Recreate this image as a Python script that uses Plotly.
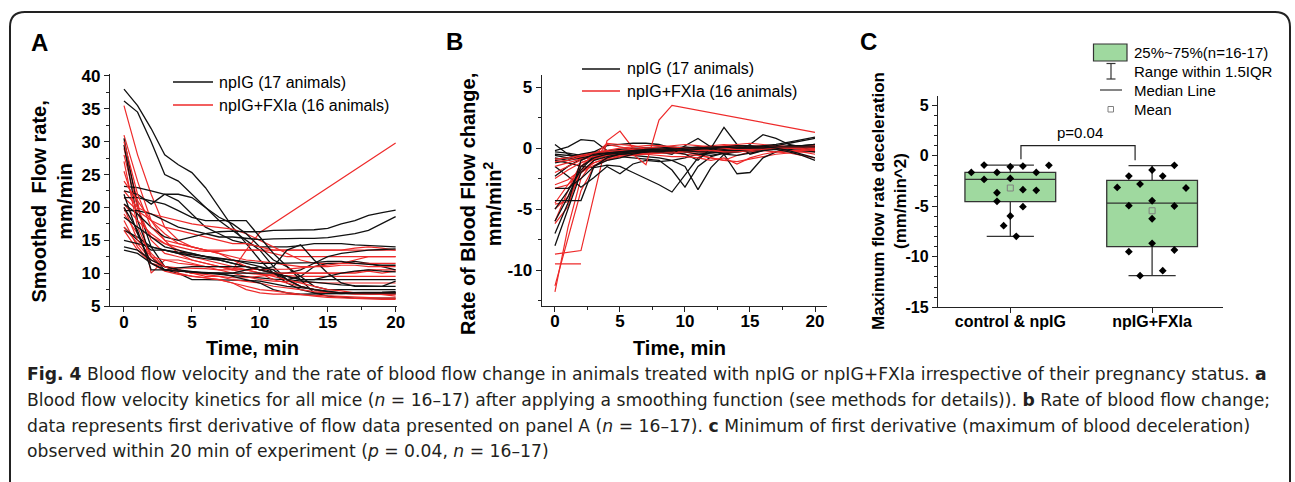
import plotly.graph_objects as go

W, H = 1295, 482
FONT = "Liberation Sans, Arial, sans-serif"
CAPFONT = "DejaVu Sans, sans-serif"

# ---------------- data ----------------
time_min = list(range(21))

# Panel A: smoothed flow rate (mm/min), npIG (17 animals)
flow_npig = [
    [38.0, 35.5, 32.0, 28.0, 26.5, 25.3, 23.0, 20.0, 17.0, 14.5, 12.0, 10.0, 8.5, 7.5, 7.0, 7.0, 7.0, 7.0, 7.0, 7.1, 7.2],
    [36.2, 34.5, 30.0, 25.0, 24.0, 22.0, 20.0, 18.0, 16.5, 15.0, 13.5, 11.0, 9.0, 8.0, 7.5, 7.0, 6.9, 6.8, 6.8, 6.8, 6.8],
    [30.5, 20.0, 14.0, 11.0, 10.5, 10.0, 10.0, 9.8, 9.6, 9.5, 9.2, 9.1, 9.0, 8.8, 8.5, 8.3, 8.2, 8.1, 8.0, 8.0, 8.0],
    [29.5, 18.0, 12.5, 10.5, 10.0, 9.0, 9.0, 9.0, 9.0, 8.9, 8.8, 8.4, 8.0, 7.8, 7.5, 7.2, 7.0, 7.0, 7.0, 7.0, 7.0],
    [23.2, 23.0, 22.5, 22.0, 21.0, 19.0, 17.0, 16.0, 15.0, 14.5, 14.0, 14.0, 14.0, 14.2, 14.5, 14.5, 14.5, 14.3, 14.2, 14.0, 14.0],
    [22.5, 22.0, 20.5, 22.0, 22.0, 21.5, 20.0, 18.5, 17.5, 16.0, 14.0, 12.0, 11.0, 9.5, 8.0, 7.5, 7.5, 7.5, 7.5, 7.5, 7.5],
    [21.5, 21.5, 21.0, 20.5, 19.5, 18.5, 18.0, 18.0, 18.0, 18.0, 15.5, 13.0, 11.0, 9.0, 7.0, 6.5, 6.3, 6.2, 6.2, 6.2, 6.2],
    [20.5, 19.0, 17.0, 15.5, 15.0, 15.5, 16.0, 16.3, 16.4, 16.3, 16.3, 16.5, 16.5, 16.5, 16.6, 16.8, 17.5, 18.0, 18.8, 19.2, 19.6],
    [19.5, 19.5, 19.0, 18.0, 17.0, 16.5, 16.0, 15.5, 15.5, 15.3, 15.1, 15.2, 15.3, 15.3, 15.3, 15.4, 15.7, 16.0, 16.5, 17.5, 18.6],
    [17.0, 15.0, 13.5, 13.5, 13.2, 13.0, 12.5, 12.0, 11.5, 11.0, 10.5, 10.0, 10.0, 10.5, 11.5, 12.5, 13.0, 13.3, 13.5, 13.6, 13.7],
    [16.5, 15.5, 14.0, 13.5, 13.0, 12.8, 12.5, 12.3, 12.0, 11.5, 11.0, 10.0, 9.0, 9.5, 11.0, 11.5, 11.5, 11.8, 11.5, 11.0, 10.5],
    [15.0, 14.5, 14.0, 13.5, 13.0, 12.5, 12.2, 12.0, 11.5, 11.0, 10.5, 11.0, 13.5, 14.3, 12.0, 10.0, 8.5, 8.0, 8.0, 8.0, 8.8],
    [14.0, 13.5, 12.0, 11.0, 10.5, 10.2, 10.0, 10.0, 10.0, 10.0, 10.0, 10.0, 9.5, 9.0, 9.0, 9.0, 9.0, 9.0, 9.0, 9.0, 9.0],
    [13.5, 13.0, 11.5, 10.5, 10.3, 10.2, 10.0, 10.0, 9.5, 9.0, 8.5, 7.5, 7.0, 6.8, 6.8, 6.8, 6.9, 7.0, 7.0, 7.0, 7.0],
    [22.0, 16.0, 11.5, 10.5, 10.3, 10.1, 10.0, 10.0, 10.0, 10.5, 11.0, 10.5, 9.0, 8.0, 7.5, 7.2, 7.0, 7.0, 7.0, 7.0, 7.0],
    [20.0, 16.5, 10.5, 10.5, 10.8, 11.0, 11.0, 11.0, 11.0, 11.0, 10.5, 10.0, 9.5, 9.0, 9.0, 9.5, 10.0, 10.3, 10.5, 10.3, 10.2],
    [18.5, 17.0, 15.5, 14.0, 13.5, 13.0, 12.5, 12.2, 12.0, 11.8, 11.5, 11.5, 11.5, 11.5, 11.6, 11.8, 11.8, 11.5, 11.3, 11.2, 11.2],
]
# Panel A: npIG+FXIa (16 animals)
flow_fxia = [
    [35.5, 28.0, 22.0, 17.0, 15.0, 14.0, 13.5, 13.5, 13.5, 13.5, 13.5, 13.5, 13.5, 13.5, 13.5, 13.5, 13.5, 13.5, 13.5, 13.5, 13.5],
    [31.0, 24.0, 18.0, 15.0, 13.0, 12.0, 11.5, 11.0, 10.5, 13.5, 16.2, None, None, None, None, None, None, None, None, None, 29.8],
    [29.0, 21.0, 10.0, 12.0, 12.0, 11.5, 11.0, 10.5, 10.0, 9.5, 9.0, 8.8, 8.7, 8.6, 8.5, 8.5, 8.5, 8.5, 8.5, 8.5, 8.5],
    [28.0, 20.0, 15.0, 13.0, 12.5, 12.0, 11.5, 11.0, 10.5, 10.0, 9.8, 9.7, 9.5, 9.5, 9.5, 9.5, 9.5, 9.5, 9.5, 9.5, 9.5],
    [25.5, 19.0, 15.5, 14.5, 14.0, 13.5, 13.3, 13.3, 13.5, 13.5, 13.5, 13.0, 12.5, 12.5, 12.5, 12.5, 12.5, 12.5, 12.5, 12.5, 12.5],
    [22.5, 20.0, 19.0, 18.5, 18.0, 17.5, 17.2, 17.0, 16.7, 16.0, 15.0, 14.0, 13.0, 12.0, 11.5, 11.5, 11.5, 12.0, 12.5, 12.5, 12.5],
    [21.5, 19.5, 18.0, 17.0, 16.5, 16.0, 15.5, 15.0, 14.5, 14.5, 14.0, 13.5, 13.5, 13.5, 13.5, 13.5, 13.5, 13.8, 14.0, 13.8, 13.5],
    [20.5, 18.0, 16.0, 14.5, 13.5, 12.5, 12.0, 11.5, 11.0, 10.5, 10.0, 9.0, 8.5, 8.0, 7.5, 7.0, 7.0, 7.0, 7.0, 7.0, 7.0],
    [19.0, 16.0, 13.0, 11.0, 10.5, 10.0, 9.5, 9.5, 9.3, 9.3, 9.5, 9.8, 10.0, 10.0, 10.0, 10.0, 10.0, 10.2, 10.5, 10.5, 10.5],
    [18.0, 14.0, 11.5, 10.3, 9.8, 9.5, 9.2, 9.0, 8.5, 7.5, 7.0, 6.8, 6.8, 6.7, 6.6, 6.5, 6.5, 6.3, 6.2, 6.2, 6.2],
    [17.0, 14.5, 12.0, 11.0, 10.5, 10.0, 9.8, 9.5, 9.0, 8.8, 8.5, 8.0, 7.8, 7.5, 7.2, 7.0, 7.0, 6.8, 6.8, 6.8, 6.8],
    [16.5, 13.5, 11.5, 11.0, 10.8, 10.8, 10.7, 10.5, 10.5, 10.5, 10.5, 10.6, 10.6, 10.8, 11.0, 11.0, 11.2, 11.2, 11.0, 11.0, 11.0],
    [20.0, 15.0, 12.5, 12.0, 11.5, 11.3, 11.0, 11.0, 10.8, 10.5, 10.0, 9.5, 9.0, 8.5, 8.0, 7.5, 7.3, 7.0, 7.0, 6.8, 6.5],
    [30.0, 22.0, 17.0, 15.0, 14.5, 14.0, 13.5, 13.0, 12.5, 12.0, 11.8, 11.5, 11.3, 11.0, 11.0, 11.2, 11.5, 11.5, 11.5, 11.5, 11.5],
    [27.0, 17.0, 12.5, 11.0, 10.0, 9.5, 9.3, 9.0, 8.5, 8.0, 7.5, 7.3, 7.0, 6.8, 6.5, 6.3, 6.2, 6.1, 6.0, 6.0, 6.0],
    [24.0, 21.0, 18.0, 16.0, 14.5, 14.0, 13.5, 13.0, 12.0, 11.0, 10.5, 10.0, 10.0, 10.0, 10.0, 10.0, 10.0, 10.0, 10.3, 10.0, 10.3],
]

# Panel B: rate of blood flow change (mm/min^2), npIG
rate_npig = [
    [0.3, -0.5, -0.8, -0.6, -0.4, -0.3, -0.2, -0.2, -0.3, -0.3, -0.2, -0.1, 0.0, 0.1, 0.2, 0.1, 0.0, 0.1, 0.2, 0.2, 0.3],
    [-0.2, 0.1, 0.7, 0.6, -0.2, -0.4, -0.5, -0.4, -0.3, -0.2, -0.3, -0.2, -0.1, 0.0, 0.0, 0.1, 0.1, 0.0, 0.0, 0.1, 0.1],
    [-0.5, -0.6, -0.7, -0.4, -0.2, -0.1, 0.0, 0.0, 0.1, 0.0, -0.1, 0.0, 0.1, 0.0, 0.0, 0.1, 0.0, 0.0, 0.0, 0.0, 0.0],
    [-0.8, -1.0, -0.6, -0.3, 0.2, 0.3, 0.4, 0.4, 0.3, 0.0, -0.3, -0.5, -0.6, -0.4, -0.2, -0.1, 0.0, 0.1, 0.1, 0.0, 0.0],
    [-1.0, -1.2, -1.5, -1.6, -1.4, -1.5, -2.0, -2.5, -3.0, -3.6, -2.2, -0.8, -0.3, -0.2, -0.1, 0.0, 0.0, 0.1, 0.0, 0.0, -0.1],
    [-1.5, -2.3, -3.2, -2.4, -1.5, -2.1, -1.3, -1.0, -1.1, -1.0, -0.8, -0.5, -0.4, -0.3, -0.2, -0.1, 0.0, 0.0, 0.1, 0.1, 0.2],
    [-2.3, -1.5, -0.9, -0.6, -0.5, -0.7, -0.8, -0.9, -1.0, -1.8, -3.2, -1.5, -0.7, -0.4, -0.3, -0.2, -0.1, 0.0, 0.0, 0.0, 0.0],
    [-0.9, -0.8, -0.5, -0.3, -0.4, -0.5, -0.6, -0.7, -0.8, -1.0, -1.5, -3.4, -1.6, -0.5, -0.3, -0.2, -0.1, 0.0, 0.0, -0.1, -0.2],
    [-1.2, -1.0, -0.8, -0.6, -0.5, -0.4, -0.3, -0.3, -0.2, -0.3, -0.5, -1.0, 0.0, 1.7, 0.3, -0.5, -0.2, 0.0, 0.1, 0.0, 0.0],
    [-0.3, -0.4, -0.6, -0.5, -0.4, -0.3, -0.2, -0.2, -0.3, -0.5, 0.2, 0.8, 0.1, -0.5, -2.1, -2.0, -0.8, -0.3, 0.0, 0.2, 0.3],
    [-0.6, -0.8, -0.9, -0.7, -0.5, -0.4, -0.3, -0.2, -0.1, -0.1, -0.2, -0.3, -0.3, -0.2, -0.2, 0.3, 1.1, 0.8, 0.3, 0.1, -0.3],
    [-4.3, -4.3, -4.3, -1.5, -0.8, -0.5, -0.4, -0.3, -0.2, -0.2, -0.1, -0.1, 0.0, 0.0, 0.1, 0.1, 0.0, 0.0, -0.1, -0.2, -0.3],
    [-5.0, -3.5, -1.8, -0.6, -0.3, -0.2, -0.1, 0.0, 0.0, 0.1, 0.0, 0.0, -0.1, 0.0, 0.0, 0.1, 0.2, 0.3, 0.5, 0.7, 0.9],
    [-6.0, -4.0, -1.5, -0.8, -0.5, -0.4, -0.3, -0.2, -0.2, -0.1, 0.0, 0.1, 0.0, -0.1, 0.0, 0.0, 0.1, 0.2, 0.4, 0.6, 0.8],
    [-7.0, -4.5, -1.0, -0.5, -0.4, -0.3, -0.2, -0.1, -0.1, 0.0, 0.1, 0.0, -0.2, -0.5, -0.6, -0.4, -0.2, -0.1, -0.3, -0.6, -1.0],
    [-8.0, -5.0, -2.0, -1.0, -0.7, -0.5, -0.4, -0.3, -0.3, -0.2, -0.2, -0.1, 0.0, 0.1, 0.2, 0.2, 0.1, 0.0, -0.2, -0.5, -0.8],
    [-3.3, -3.3, -2.5, -1.5, -1.0, -0.8, -0.5, -0.3, -0.2, -0.1, 0.0, 0.0, 0.1, 0.1, 0.0, 0.0, 0.0, 0.1, 0.1, 0.1, 0.1],
]
# Panel B: npIG+FXIa
rate_fxia = [
    [-11.8, -6.5, -2.5, -1.0, -0.5, -0.3, -0.2, -0.3, -0.4, -0.3, -0.2, -0.3, -0.4, -0.3, -0.2, -0.1, -0.1, 0.0, 0.0, 0.0, 0.0],
    [-11.3, -7.5, -3.5, -1.5, -0.8, -0.5, -0.4, -0.3, -0.2, -0.2, -0.3, -0.5, -0.8, -1.0, -0.6, -0.3, -0.2, -0.3, -0.4, -0.6, -0.8],
    [-9.5, -9.5, -9.5, None, None, None, None, None, None, None, None, None, None, None, None, None, None, None, None, None, None],
    [-8.7, -8.55, -8.4, -3.9, 0.6, 1.4, 0.0, -0.3, -0.4, -0.3, -0.2, -0.1, 0.0, 0.0, 0.1, 0.0, 0.0, 0.1, 0.0, 0.0, 0.0],
    [-6.2, -4.8, -1.5, -0.5, -0.3, -0.2, -0.2, -0.1, -0.1, 0.0, 0.0, 0.0, 0.1, 0.1, 0.2, 0.2, 0.1, 0.0, 0.0, 0.0, 0.0],
    [-6.0, -3.5, -1.2, -0.8, -0.6, -0.5, -0.4, -0.3, -0.3, -0.2, -0.2, -0.1, -0.1, 0.0, 0.0, 0.0, 0.0, -0.1, -0.2, -0.3, -0.5],
    [-5.0, -4.0, -2.0, -1.0, 0.3, 0.1, -0.1, -0.2, -0.3, -0.3, -0.2, -0.2, -0.1, -0.1, 0.0, 0.1, 0.2, 0.2, 0.1, 0.0, -0.1],
    [-4.6, -4.4, -2.0, -1.2, -0.8, -0.6, -0.5, -0.5, -0.4, -0.4, -0.5, -0.6, -0.8, -1.0, -1.1, -0.9, -0.7, -0.5, -0.4, -0.3, -0.3],
    [-4.5, -3.0, -1.5, -0.9, -0.6, -0.4, -0.3, -0.3, -0.2, -0.1, 0.0, 0.1, 0.2, 0.3, 0.2, 0.1, 0.0, 0.0, 0.1, 0.1, 0.2],
    [-3.3, -3.0, -2.0, -1.4, -1.0, -0.7, -0.5, -0.4, -0.3, -0.2, -0.2, -0.1, 0.0, 0.0, 0.1, 0.1, 0.1, 0.1, 0.0, 0.0, 0.0],
    [-3.0, -2.6, -1.8, -1.2, -0.9, -0.7, -0.6, -0.5, -0.4, -0.4, -0.3, -0.3, -0.2, -0.2, -0.1, -0.1, 0.0, 0.0, 0.0, 0.1, 0.1],
    [-2.5, -1.8, -1.2, -0.8, -0.6, -0.5, -0.5, -1.35, 2.3, 3.5, None, None, None, None, None, None, None, None, None, None, 1.3],
    [-2.0, -1.5, -1.0, -0.6, 0.4, 0.3, 0.2, 0.0, -0.1, -0.1, 0.0, 0.0, 0.1, 0.2, 0.3, 0.4, 0.3, 0.2, 0.1, 0.0, 0.0],
    [-1.5, -1.2, -0.9, -0.7, -0.5, -0.4, -0.4, -0.5, -0.6, -0.7, -0.7, -0.8, -1.0, -0.8, -1.3, -0.8, -0.5, -0.3, -0.2, -0.2, -0.1],
    [-1.1, -1.0, -0.7, -0.5, -0.3, -0.2, -0.1, 0.0, 0.1, 0.2, 0.3, 0.2, 0.1, 0.0, -0.1, -0.1, 0.0, 0.0, 0.0, -0.1, -0.2],
    [-0.9, -0.8, -0.6, -0.4, -0.2, 0.0, 0.1, 0.2, 0.2, 0.1, 0.0, -0.1, -0.2, -0.3, -0.3, -0.2, -0.1, 0.0, 0.1, 0.1, 0.1],
]

# Panel C: maximum flow-rate deceleration (mm/min^2)
groups = ["control & npIG", "npIG+FXIa"]
ctrl_vals = [-0.93, -1.10, -1.03, -0.96, -1.66, -1.66, -1.66, -2.35, -2.25, -3.67, -3.37, -3.43, -4.52, -5.05, -5.97, -6.93, -7.98]
ctrl_jitter = [-0.185, 0.0, 0.089, 0.272, -0.275, -0.094, 0.183, -0.185, 0.0, -0.094, 0.089, 0.183, -0.094, 0.089, 0.0, -0.047, 0.042]
fxia_vals = [-0.96, -1.42, -2.02, -2.02, -2.81, -3.14, -3.20, -4.46, -4.95, -4.98, -6.24, -8.67, -9.50, -9.33, -11.38, -11.87]
fxia_jitter = [0.157, 0.0, -0.164, 0.075, -0.085, -0.246, 0.239, 0.0, -0.164, 0.157, 0.0, 0.0, -0.164, 0.157, 0.075, -0.085]
box_q1 = [-4.55, -9.0]
box_median = [-2.35, -4.69]
box_q3 = [-1.65, -2.45]
box_low = [-7.98, -11.87]
box_high = [-0.93, -0.98]
box_mean = [-3.2, -5.45]
p_label = "p=0.04"

# ---------------- helpers ----------------
def px(x):
    return x / W

def py(y):
    return 1 - y / H

BLACK = "#111111"
RED = "#ee2a2a"
AXC = "#222222"

fig = go.Figure()

# Panel A
for i in range(max(len(flow_npig), len(flow_fxia))):
    if i < len(flow_fxia):
        fig.add_trace(go.Scatter(x=time_min, y=flow_fxia[i], mode="lines", connectgaps=True,
                                 line=dict(color=RED, width=1.2), showlegend=False,
                                 xaxis="x", yaxis="y", hoverinfo="skip"))
    if i < len(flow_npig):
        fig.add_trace(go.Scatter(x=time_min, y=flow_npig[i], mode="lines", connectgaps=True,
                                 line=dict(color=BLACK, width=1.3), showlegend=False,
                                 xaxis="x", yaxis="y", hoverinfo="skip"))
# Panel B
for i in range(max(len(rate_npig), len(rate_fxia))):
    if i < len(rate_fxia):
        fig.add_trace(go.Scatter(x=time_min, y=rate_fxia[i], mode="lines", connectgaps=True,
                                 line=dict(color=RED, width=1.2), showlegend=False,
                                 xaxis="x2", yaxis="y2", hoverinfo="skip"))
    if i < len(rate_npig):
        fig.add_trace(go.Scatter(x=time_min, y=rate_npig[i], mode="lines", connectgaps=True,
                                 line=dict(color=BLACK, width=1.3), showlegend=False,
                                 xaxis="x2", yaxis="y2", hoverinfo="skip"))

# Panel C boxes
for k in range(2):
    fig.add_trace(go.Box(x=[k], q1=[box_q1[k]], median=[box_median[k]], q3=[box_q3[k]],
                         lowerfence=[box_low[k]], upperfence=[box_high[k]],
                         width=0.64, whiskerwidth=0.52, boxpoints=False,
                         fillcolor="#9fd99f", line=dict(color="#333333", width=1.3),
                         showlegend=False, xaxis="x3", yaxis="y3", hoverinfo="skip"))
fig.add_trace(go.Scatter(x=[0 + j for j in ctrl_jitter], y=ctrl_vals, mode="markers",
                         marker=dict(symbol="diamond", size=6, color="black"),
                         showlegend=False, xaxis="x3", yaxis="y3", hoverinfo="skip"))
fig.add_trace(go.Scatter(x=[1 + j for j in fxia_jitter], y=fxia_vals, mode="markers",
                         marker=dict(symbol="diamond", size=6, color="black"),
                         showlegend=False, xaxis="x3", yaxis="y3", hoverinfo="skip"))
fig.add_trace(go.Scatter(x=[0, 1], y=box_mean, mode="markers",
                         marker=dict(symbol="square-open", size=6, color="#808080", line=dict(width=1)),
                         showlegend=False, xaxis="x3", yaxis="y3", hoverinfo="skip"))

tickfont = dict(family=FONT, size=17, color="black", weight="bold")

def axis(**kw):
    d = dict(showline=True, linecolor=AXC, linewidth=1.3, ticks="outside", ticklen=5,
             tickwidth=1.3, tickcolor=AXC, showgrid=False, zeroline=False, automargin=False,
             tickfont=tickfont, fixedrange=True)
    d.update(kw)
    return d

fig.update_layout(
    width=W, height=H, margin=dict(l=0, r=0, t=0, b=0, pad=0), autosize=False,
    paper_bgcolor="white", plot_bgcolor="white", showlegend=False,
    xaxis=axis(domain=[px(110), px(397)], range=[-1.03, 20.1], anchor="y",
               tickvals=[0, 5, 10, 15, 20], ticklabelstandoff=-5,
               minor=dict(ticks="outside", ticklen=3, tickcolor=AXC, tick0=0, dtick=2.5)),
    yaxis=axis(domain=[py(306), py(74)], range=[5, 40.3], anchor="x",
               tickvals=[5, 10, 15, 20, 25, 30, 35, 40],
               minor=dict(ticks="outside", ticklen=3, tickcolor=AXC, tick0=0, dtick=2.5)),
    xaxis2=axis(domain=[px(541.7), px(826.7)], range=[-1.02, 20.9], anchor="y2",
                tickvals=[0, 5, 10, 15, 20], ticklabelstandoff=-6,
                minor=dict(ticks="outside", ticklen=3, tickcolor=AXC, tick0=0, dtick=2.5)),
    yaxis2=axis(domain=[py(306), py(75)], range=[-12.95, 6.0], anchor="x2",
                tickvals=[-10, -5, 0, 5], ticktext=["-10", "-5", "0", "5"],
                minor=dict(ticks="outside", ticklen=3, tickcolor=AXC, tick0=0, dtick=2.5)),
    xaxis3=axis(domain=[px(938), px(1223)], range=[-0.51, 1.5], anchor="y3",
                tickvals=[0, 1], ticktext=groups, ticklabelstandoff=-6,
                tickfont=dict(family=FONT, size=16, color="black", weight="bold")),
    yaxis3=axis(domain=[py(307.3), py(96)], range=[-15, 5.9], anchor="x3",
                tickvals=[-15, -10, -5, 0, 5], ticktext=["-15", "-10", "-5", "0", "5"],
                tickfont=dict(family=FONT, size=16, color="black", weight="bold"),
                minor=dict(ticks="outside", ticklen=3, tickcolor=AXC, tick0=0, dtick=1)),
)

ann = []
shapes = []

def text(x, y, s, size, bold=False, angle=0, xanchor="center", family=FONT, color="black"):
    ann.append(dict(x=px(x), y=py(y), xref="paper", yref="paper", text=s, showarrow=False,
                    xanchor=xanchor, yanchor="middle", textangle=angle,
                    font=dict(family=family, size=size, color=color, weight="bold" if bold else "normal")))

# panel letters
text(39, 42, "A", 24, bold=True)
text(454, 41, "B", 24, bold=True)
text(868, 41, "C", 24, bold=True)

# axis titles
text(51.5, 202, "Smoothed  Flow rate,<br>mm/min", 20, bold=True, angle=-90)
text(253, 348, "Time, min", 20, bold=True)
text(481, 204, "Rate of Blood Flow change,<br>mm/min<sup>2</sup>", 20, bold=True, angle=-90)
text(680, 348, "Time, min", 20, bold=True)
text(889, 201, "Maximum flow rate deceleration<br>(mm/min^2)", 17, bold=True, angle=-90)

# legends A and B
for (lx0, lx1, tx, y1, y2) in [(173, 213, 217, 82, 105), (582, 620, 625, 69, 91)]:
    shapes.append(dict(type="line", xref="paper", yref="paper", x0=px(lx0), x1=px(lx1), y0=py(y1), y1=py(y1),
                       line=dict(color=BLACK, width=1.5)))
    shapes.append(dict(type="line", xref="paper", yref="paper", x0=px(lx0), x1=px(lx1), y0=py(y2), y1=py(y2),
                       line=dict(color=RED, width=1.5)))
    text(tx, y1, "npIG (%d animals)" % len(flow_npig), 16, xanchor="left")
    text(tx, y2, "npIG+FXIa (%d animals)" % len(flow_fxia), 16, xanchor="left")

# legend C
shapes.append(dict(type="rect", xref="paper", yref="paper", x0=px(1093.5), x1=px(1127), y0=py(61), y1=py(44),
                   fillcolor="#9fd99f", line=dict(color="#333333", width=1.2)))
text(1131.5, 52.5, "25%%~75%%(n=%d-%d)" % (len(fxia_vals), len(ctrl_vals)), 15, xanchor="left")
shapes.append(dict(type="line", xref="paper", yref="paper", x0=px(1111), x1=px(1111), y0=py(63.5), y1=py(79),
                   line=dict(color="#333333", width=1.2)))
for yy in (63.5, 79):
    shapes.append(dict(type="line", xref="paper", yref="paper", x0=px(1106.5), x1=px(1115.5), y0=py(yy), y1=py(yy),
                       line=dict(color="#333333", width=1.2)))
text(1131.5, 71.5, "Range within 1.5IQR", 15, xanchor="left")
shapes.append(dict(type="line", xref="paper", yref="paper", x0=px(1100), x1=px(1122), y0=py(90), y1=py(90),
                   line=dict(color="#333333", width=1.2)))
text(1131.5, 90, "Median Line", 15, xanchor="left")
shapes.append(dict(type="rect", xref="paper", yref="paper", x0=px(1108), x1=px(1113.5), y0=py(112), y1=py(106.5),
                   line=dict(color="#808080", width=1)))
text(1131.5, 109.5, "Mean", 15, xanchor="left")

# significance bracket
shapes.append(dict(type="path", xref="x3", yref="y3",
                   path="M 0.075,-0.35 L 0.075,1.0 L 0.88,1.0 L 0.88,-0.45",
                   line=dict(color="#222222", width=1.2)))
ann.append(dict(x=0.49, y=2.25, xref="x3", yref="y3", text=p_label, showarrow=False,
                xanchor="center", yanchor="middle", font=dict(family=FONT, size=15, color="black")))

# outer rounded frame
shapes.append(dict(type="path", xref="paper", yref="paper",
                   path="M %f,%f L %f,%f Q %f,%f %f,%f L %f,%f Q %f,%f %f,%f L %f,%f" % (
                       px(10), py(485), px(10), py(27), px(10), py(12), px(25), py(12),
                       px(1275), py(12), px(1290), py(12), px(1290), py(27), px(1290), py(485)),
                   line=dict(color="#222222", width=2)))

# caption
CAPC = "#231f20"
cap_lines = [
    "<b>Fig. 4</b> Blood flow velocity and the rate of blood flow change in animals treated with npIG or npIG+FXIa irrespective of their pregnancy status. <b>a</b>",
    "Blood flow velocity kinetics for all mice (<i>n</i> = 16–17) after applying a smoothing function (see methods for details)). <b>b</b> Rate of blood flow change;",
    "data represents first derivative of flow data presented on panel A (<i>n</i> = 16–17). <b>c</b> Minimum of first derivative (maximum of blood deceleration)",
    "observed within 20 min of experiment (<i>p</i> = 0.04, <i>n</i> = 16–17)",
]
for yy, s in zip([374, 400, 425.5, 450.5], cap_lines):
    text(25, yy, s, 17.2, xanchor="left", family=CAPFONT, color=CAPC)

fig.update_layout(annotations=ann, shapes=shapes)
fig.write_html("out.html", config={"displayModeBar": False},
               post_script="document.body.style.margin='0px';document.body.style.overflow='hidden';")
